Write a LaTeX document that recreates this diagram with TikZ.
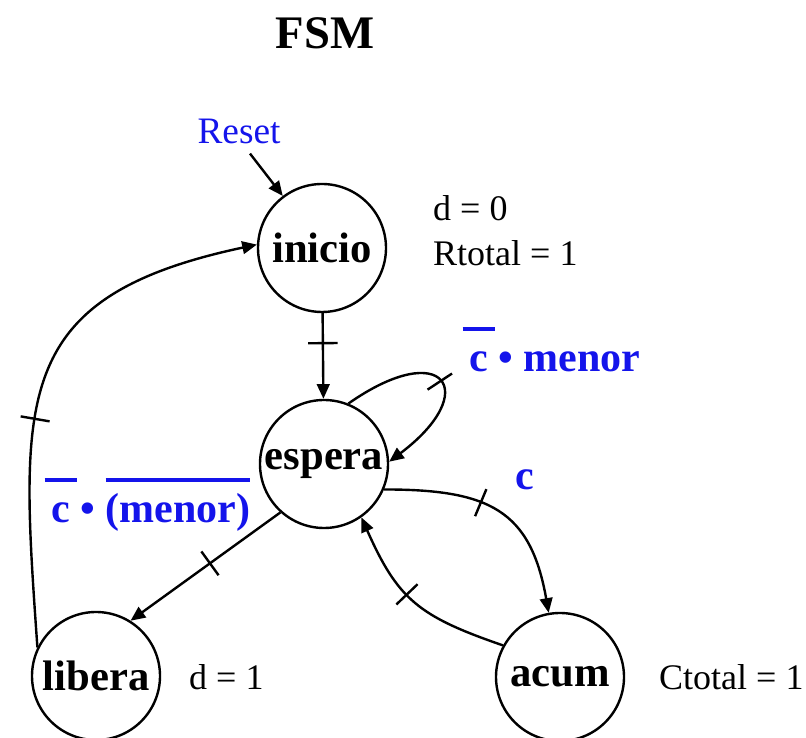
\documentclass[tikz,border=0pt]{standalone}
\usepackage{fontspec}
\setmainfont{Liberation Serif}
\usetikzlibrary{arrows.meta,decorations.markings}
\definecolor{fsmazul}{RGB}{20,20,235}
\newcommand{\negado}[2][0pt]{\hbox{\kern-#1\vbox{\hrule height 3pt\hbox{\kern#1\vrule height 0.98em width 0pt\relax#2\kern#1}}\kern-#1}}

\begin{document}
\begin{tikzpicture}[x=0.75pt,y=0.75pt,line width=1.8pt,
    every node/.style={inner sep=0pt,font=\fontsize{27}{32}\selectfont},
    estado/.style={circle,draw,minimum size=96pt,font=\fontsize{32}{38}\selectfont\bfseries},
    cond/.style={text=fsmazul,anchor=base west,font=\fontsize{31.5}{38}\selectfont\bfseries},
    salida/.style={anchor=base west},
    flecha/.style={-{Triangle[length=11pt,width=9.5pt]}},
    marca/.style={postaction={decorate,decoration={markings,
      mark=at position #1 with {\draw[-,line width=1.8pt] (0pt,-11pt)--(0pt,11pt);}}}}]
  \useasboundingbox (0,0) rectangle (806,738);
  \node[font=\fontsize{35}{40}\selectfont\bfseries] (titulo) at (325,705) {FSM};
  \node[text=fsmazul,font=\fontsize{28}{34}\selectfont] (reset) at (239,607) {Reset};
  \node[estado] (inicio) at (322,490) {inicio};
  \node[estado] (espera) at (324,274) {espera};
  \node[estado] (libera) at (96,62) {libera};
  \node[estado] (acum) at (560,61) {acum};
  % salidas de cada estado
  \node[salida] (d0) at (432,517) {d = 0};
  \node[salida] (rtot) at (432,472) {Rtotal = 1};
  \node[salida] (d1) at (188,48) {d = 1};
  \node[salida] (ctot) at (658,48) {Ctotal = 1};
  % condiciones
  \node[cond] (cmenor) at (468,366) {\negado[5pt]{c} • menor};
  \node[cond] (cnmenor) at (50,215) {\negado[5pt]{c} • \negado{(menor)}};
  \node[cond] (cc) at (514,248) {c};
  \draw[flecha] ([shift={(11,-9)}]reset.south) -- (inicio.127);
  \draw[flecha,marca=0.35] (inicio) -- (espera);
  \draw[flecha,marca=0.5] (espera.68) to[out=35,in=37,looseness=4.2] (espera.2);
  \draw[flecha,marca=0.42] (espera.-23) to[out=0,in=100,looseness=1.3] (acum.100);
  \draw[flecha,marca=0.55] (acum.151) to[out=161,in=-66,looseness=1.2] (espera.-55);
  \draw[flecha,marca=0.47] (espera.-132) -- (libera.58);
  \draw[flecha,marca=0.43] (libera.154) to[out=94,in=192,looseness=1.4] (inicio.177);
\end{tikzpicture}
\end{document}
